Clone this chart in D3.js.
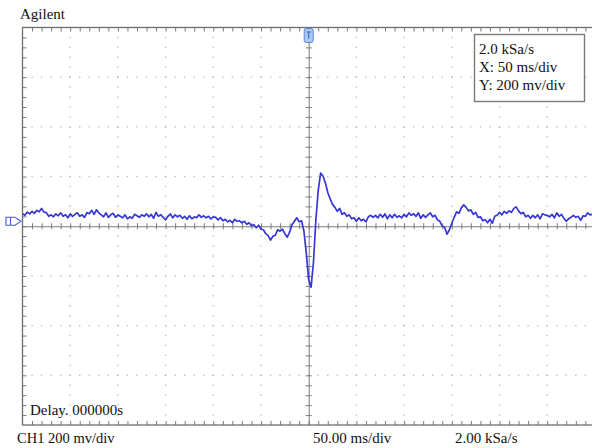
<!DOCTYPE html>
<html>
<head>
<meta charset="utf-8">
<script src="https://cdn.jsdelivr.net/npm/d3@7"></script>
<style>
  html, body { margin: 0; padding: 0; background: #fff; }
  svg { display: block; }
</style>
</head>
<body>
<svg id="scope" width="592" height="448"></svg>
<script>
// Channel 1 capture: one sample every 2.5 ms, starting 300 ms before the trigger.
const sampleIntervalMs = 2.5;
const startMs = -300;
const ch1mV = [
  // -300 ms .. -100 ms
  51, 44, 57, 50, 60, 52, 64, 58, 72, 57,
  55, 40, 46, 38, 50, 42, 54, 40, 47, 34,
  50, 40, 48, 54, 40, 46, 36, 55, 50, 64,
  48, 66, 54, 46, 38, 54, 36, 46, 52, 36,
  46, 40, 34, 46, 30, 38, 32, 48, 42, 36,
  46, 40, 50, 38, 48, 32, 56, 40, 46, 36,
  26, 40, 50, 34, 46, 38, 44, 32, 40, 28,
  42, 30, 38, 34, 46, 36, 42, 34, 40, 30,
  38,
  // -97.5 ms .. 65 ms
  36, 26, 35, 22, 28, 18, 24, 14, 28, 20,
  22, 14, 20, 8, 14, 2, 6, -6, 4, -12,
  -14, -30, -38, -56, -40, -36, -14, -20, -12, -30,
  -44, -24, 6, 20, 34, 18, 22, -20, -110, -215,
  -245, -145, 25, 145, 214, 202, 174, 136, 110, 88,
  76, 60, 72, 48, 54, 40, 46, 30, 34, 20,
  34, 22, 28, 18, 38, 44,
  // 67.5 ms .. 300 ms
  36, 44, 34, 48, 36, 50, 30, 46, 34, 48,
  36, 42, 34, 48, 38, 54, 44, 50, 40, 54,
  32, 46, 36, 46, 54, 38, 44, 26, 20, 0,
  -4, -32, -14, 12, 36, 58, 52, 74, 86, 76,
  62, 66, 48, 56, 36, 38, 22, 26, 14, 28,
  12, 40, 44, 56, 46, 60, 52, 62, 56, 72,
  78, 62, 50, 56, 38, 44, 32, 44, 34, 46,
  30, 50, 46, 44, 38, 48, 34, 54, 40, 48,
  32, 20, 30, 36, 44, 36, 40, 24, 42, 40,
  54, 46, 48, 40
];

// Screen settings: 12 x 50 ms horizontal divisions, 8 x 200 mV vertical divisions.
const timeDomainMs = [-300, 300];
const voltDomainMv = [-800, 800];
const msPerDiv = 50;
const mvPerDiv = 200;
const minorPerDiv = 5;

const headerTitle = "Agilent";
const infoLines = ["2.0 kSa/s", "X: 50 ms/div", "Y: 200 mv/div"];
const delayLabel = "Delay. 000000s";
const footerLabels = ["CH1 200 mv/div", "50.00 ms/div", "2.00 kSa/s"];

const serif = '"Liberation Serif", "Times New Roman", serif';

const svg = d3.select("#scope");
const plot = { left: 22.5, top: 27.5, right: 594.9, bottom: 425 };

const x = d3.scaleLinear().domain(timeDomainMs).range([plot.left, plot.right]);
const y = d3.scaleLinear().domain(voltDomainMv).range([plot.bottom, plot.top]);

const majorT = d3.range(timeDomainMs[0], timeDomainMs[1] + 1e-9, msPerDiv);
const minorT = d3.range(timeDomainMs[0], timeDomainMs[1] + 1e-9, msPerDiv / minorPerDiv);
const majorV = d3.range(voltDomainMv[0], voltDomainMv[1] + 1e-9, mvPerDiv);
const minorV = d3.range(voltDomainMv[0], voltDomainMv[1] + 1e-9, mvPerDiv / minorPerDiv);

svg.append("defs").append("clipPath").attr("id", "screen")
  .append("rect")
  .attr("x", plot.left).attr("y", plot.top)
  .attr("width", plot.right - plot.left).attr("height", plot.bottom - plot.top);

// Dotted graticule: a dot at every minor step along each major line.
const grid = svg.append("g").attr("fill", "#bdbdbd");
majorT.slice(1, -1).filter(t => t !== 0).forEach(t => {
  grid.selectAll(null).data(minorV.slice(1, -1)).join("rect")
    .attr("x", x(t) - 0.7).attr("y", v => y(v) - 0.7)
    .attr("width", 1.4).attr("height", 1.4);
});
majorV.slice(1, -1).filter(v => v !== 0).forEach(v => {
  grid.selectAll(null).data(minorT.slice(1, -1)).join("rect")
    .attr("x", t => x(t) - 0.7).attr("y", y(v) - 0.7)
    .attr("width", 1.4).attr("height", 1.4);
});

// Centre axes with minor ticks on both sides.
const axisColor = "#7a7a7a";
function styleAxis(g, drawDomain) {
  g.selectAll(".tick text").remove();
  g.selectAll(".tick line").attr("stroke", axisColor).attr("stroke-width", 1);
  g.select(".domain").attr("stroke", drawDomain ? axisColor : "none").attr("stroke-width", 1);
}
const innerT = minorT.slice(1, -1);
const innerV = minorV.slice(1, -1);
svg.append("g").attr("transform", `translate(0,${y(0)})`)
  .call(d3.axisTop(x).tickValues(innerT).tickSize(3).tickSizeOuter(0).tickFormat(""))
  .call(g => styleAxis(g, true));
svg.append("g").attr("transform", `translate(0,${y(0)})`)
  .call(d3.axisBottom(x).tickValues(innerT).tickSize(3).tickSizeOuter(0).tickFormat(""))
  .call(g => styleAxis(g, false));
svg.append("g").attr("transform", `translate(${x(0)},0)`)
  .call(d3.axisLeft(y).tickValues(innerV).tickSize(3).tickSizeOuter(0).tickFormat(""))
  .call(g => styleAxis(g, true));
svg.append("g").attr("transform", `translate(${x(0)},0)`)
  .call(d3.axisRight(y).tickValues(innerV).tickSize(3).tickSizeOuter(0).tickFormat(""))
  .call(g => styleAxis(g, false));

// Frame ticks pointing inward.
svg.append("g").attr("transform", `translate(0,${plot.bottom})`)
  .call(d3.axisTop(x).tickValues(innerT).tickSize(4).tickSizeOuter(0).tickFormat(""))
  .call(g => styleAxis(g, false));
svg.append("g").attr("transform", `translate(0,${plot.top})`)
  .call(d3.axisBottom(x).tickValues(innerT).tickSize(4).tickSizeOuter(0).tickFormat(""))
  .call(g => styleAxis(g, false));
svg.append("g").attr("transform", `translate(${plot.left},0)`)
  .call(d3.axisRight(y).tickValues(innerV).tickSize(4).tickSizeOuter(0).tickFormat(""))
  .call(g => styleAxis(g, false));

// Screen frame.
svg.append("rect")
  .attr("x", plot.left).attr("y", plot.top)
  .attr("width", plot.right - plot.left).attr("height", plot.bottom - plot.top)
  .attr("fill", "none").attr("stroke", "#6e6e6e").attr("stroke-width", 1.3);

// Channel 1 trace.
const line = d3.line()
  .x((d, i) => x(startMs + i * sampleIntervalMs))
  .y(d => y(d));
svg.append("path")
  .datum(ch1mV)
  .attr("clip-path", "url(#screen)")
  .attr("d", line)
  .attr("fill", "none")
  .attr("stroke", "#3737d6")
  .attr("stroke-width", 1.7)
  .attr("stroke-linejoin", "round");

// Trigger position marker at the top of the screen.
const trig = svg.append("g").attr("transform", `translate(${x(0)},${plot.top})`);
trig.append("rect")
  .attr("x", -4.5).attr("y", 1).attr("width", 9).attr("height", 14).attr("rx", 2)
  .attr("fill", "#a8c8f2").attr("stroke", "#5a88d8").attr("stroke-width", 1);
trig.append("path")
  .attr("d", "M-2,4.5H2M0,4.5V11")
  .attr("stroke", "#3c5fb8").attr("stroke-width", 1).attr("fill", "none");

// Channel 1 ground-reference marker on the left.
const gnd = svg.append("g").attr("transform", `translate(0,${y(0) - 5})`);
gnd.append("path")
  .attr("d", "M6,-4H15L21,0L15,4H6Z")
  .attr("fill", "#fff").attr("stroke", "#4a5ad8").attr("stroke-width", 1.1);
gnd.append("path")
  .attr("d", "M10.5,-4V4")
  .attr("stroke", "#4a5ad8").attr("stroke-width", 1.1);

// Texts.
function label(sel, px, py, size, str) {
  return sel.append("text")
    .attr("x", px).attr("y", py)
    .style("font-family", serif)
    .style("font-size", size + "px")
    .style("fill", "#111")
    .text(str);
}
label(svg, 20, 19, 15, headerTitle);

const info = svg.append("g");
info.append("rect")
  .attr("x", 474.5).attr("y", 34.5).attr("width", 110).attr("height", 67)
  .attr("fill", "#fff").attr("stroke", "#7a7a7a").attr("stroke-width", 1.4);
infoLines.forEach((s, i) => label(info, 479, 54 + i * 18, 15, s));

label(svg, 30, 415, 15, delayLabel);
label(svg, 17, 443, 14.5, footerLabels[0]);
label(svg, 313, 443, 15, footerLabels[1]);
label(svg, 455, 443, 15, footerLabels[2]);
</script>
</body>
</html>
